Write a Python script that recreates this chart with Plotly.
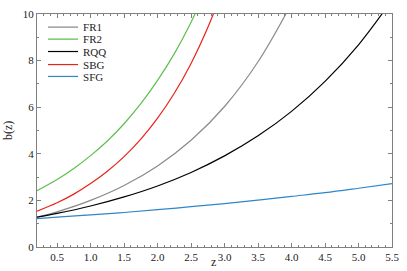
import plotly.graph_objects as go

z_fr2 = [0.2, 0.5, 0.75, 1.0, 1.25, 1.5, 1.75, 2.0, 2.25, 2.5, 2.75]
b_fr2 = [2.42, 2.90, 3.37, 3.92, 4.55, 5.29, 6.15, 7.15, 8.30, 9.65, 11.2]

z_sbg = [0.2, 0.5, 0.75, 1.0, 1.25, 1.5, 1.75, 2.0, 2.25, 2.5, 2.75, 3.0]
b_sbg = [1.54, 1.90, 2.27, 2.72, 3.25, 3.88, 4.63, 5.53, 6.60, 7.88, 9.42, 11.24]

z_fr1 = [0.2, 0.5, 1.0, 1.5, 2.0, 2.5, 3.0, 3.5, 4.0]
b_fr1 = [1.28, 1.51, 2.00, 2.64, 3.48, 4.58, 6.03, 7.95, 10.45]

z_rqq = [0.2, 0.5, 1.0, 1.5, 2.0, 2.5, 3.0, 3.5, 4.0, 4.5, 5.0, 5.5]
b_rqq = [1.28, 1.44, 1.76, 2.15, 2.62, 3.20, 3.91, 4.77, 5.82, 7.11, 8.68, 10.6]

z_sfg = [0.2, 0.5, 1.0, 1.5, 2.0, 2.5, 3.0, 3.5, 4.0, 4.5, 5.0, 5.5]
b_sfg = [1.22, 1.28, 1.38, 1.48, 1.60, 1.73, 1.86, 2.01, 2.17, 2.33, 2.52, 2.72]

x_ticks = [0.5, 1.0, 1.5, 2.0, 2.5, 3.0, 3.5, 4.0, 4.5, 5.0, 5.5]
y_ticks = [0, 2, 4, 6, 8, 10]

series_names = ["FR1", "FR2", "RQQ", "SBG", "SFG"]
series_colors = ["#8a8a8a", "#5cbf4c", "#000000", "#e8231a", "#2f86c8"]
series_z = [z_fr1, z_fr2, z_rqq, z_sbg, z_sfg]
series_b = [b_fr1, b_fr2, b_rqq, b_sbg, b_sfg]

FONT = "Liberation Serif"
fig = go.Figure()
legend_ids = ["legend", "legend2", "legend3", "legend4", "legend5"]
for i, (name, zx, by, col) in enumerate(zip(series_names, series_z, series_b, series_colors)):
    fig.add_trace(go.Scatter(x=zx, y=by, mode="lines", name=name, legend=legend_ids[i],
                             line=dict(color=col, width=1.2, shape="spline")))

axis_common = dict(
    showline=True, linecolor="#808080", linewidth=1, mirror="ticks",
    ticks="inside", tickcolor="#808080", ticklen=4, showgrid=False, zeroline=False,
    tickfont=dict(family=FONT, size=11, color="#222"),
)
fig.update_xaxes(range=[0.2, 5.5], tickvals=x_ticks, ticktext=[f"{v:.1f}" for v in x_ticks],
                 minor=dict(ticks="inside", dtick=0.1, tick0=0, ticklen=2, tickcolor="#808080"),
                 **axis_common)
fig.update_yaxes(range=[0, 10], tickvals=y_ticks,
                 minor=dict(ticks="inside", dtick=1, tick0=0, ticklen=2, tickcolor="#808080"),
                 **axis_common)

fig.add_annotation(text="z", xref="paper", yref="paper", x=0.497, y=-0.027, xanchor="center",
                   yanchor="top", showarrow=False, font=dict(family=FONT, size=12, color="#222"))
fig.add_annotation(text="b(z)", xref="paper", yref="paper", x=-0.083, y=0.5, xanchor="center",
                   yanchor="middle", textangle=-90, showarrow=False,
                   font=dict(family=FONT, size=12, color="#222"))

row_y = [0.944, 0.892, 0.839, 0.783, 0.732]
legend_layout = {}
for lid, ry in zip(legend_ids, row_y):
    legend_layout[lid] = dict(x=0.017, y=ry, xanchor="left", yanchor="middle",
                              bgcolor="rgba(0,0,0,0)",
                              font=dict(family=FONT, size=11, color="#222"))

fig.update_layout(
    width=407, height=271,
    margin=dict(l=37, r=15, t=8, b=23),
    paper_bgcolor="white", plot_bgcolor="white",
    showlegend=True,
    **legend_layout,
)
fig.write_html("out.html", config={"displayModeBar": False},
               post_script="document.body.style.margin='0';")
